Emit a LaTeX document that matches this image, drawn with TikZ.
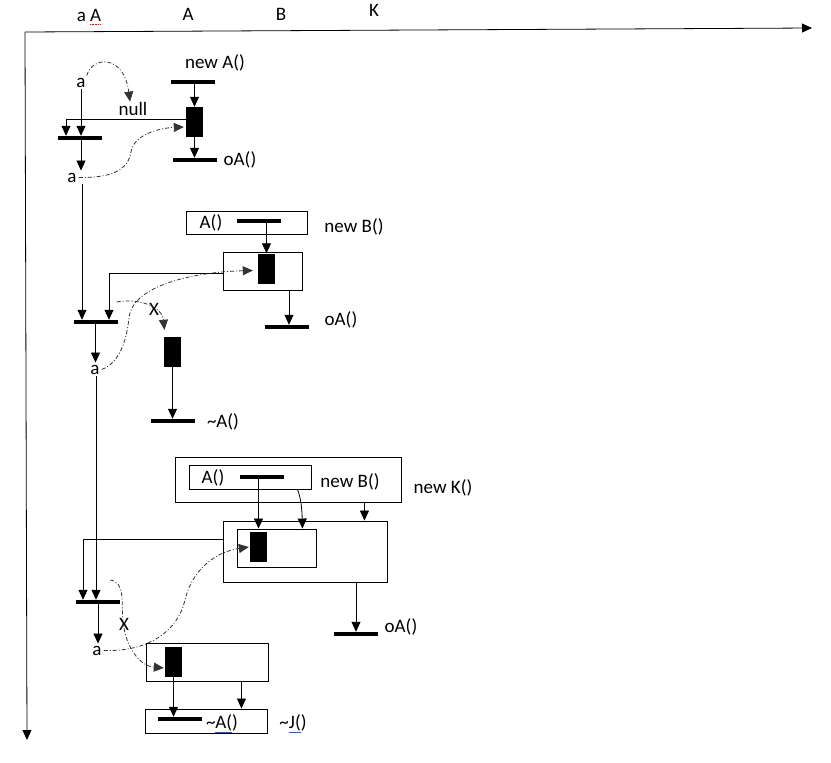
\documentclass[tikz,border=0pt]{standalone}
\usepackage{fontspec}
\setmainfont{Carlito}
\usetikzlibrary{arrows.meta,calc}
\definecolor{ulblue}{RGB}{40,90,220}
\begin{document}
\begin{tikzpicture}[x=1pt,y=-1pt,
  lbl/.style={font=\fontsize{19}{22}\selectfont, inner sep=2pt, anchor=base},
  bar/.style={fill=black, minimum width=44pt, minimum height=4pt, inner sep=0pt},
  act/.style={fill=black, minimum width=17pt, minimum height=30pt, inner sep=0pt},
  frame/.style={draw, line width=0.9pt, inner sep=0pt},
  tip/.style={-{Triangle[length=10pt,width=9pt]}},
  arr/.style={tip, line width=0.8pt},
  ln/.style={line width=0.8pt},
  dd/.style={tip, line width=0.8pt, black!80, dash pattern=on 4pt off 2pt on 1pt off 2pt}
]
\useasboundingbox (0,0) rectangle (831,763);

% axes
\coordinate (o) at (25,32);
\coordinate (xend) at (812,28);
\coordinate (yend) at (27,740);
\draw[arr] (o) -- (xend);
\draw[arr] (o) -- (yend);

% column headings
\node[lbl] (h1) at (89,21) {a A};
\node[lbl] (h2) at (188,20) {A};
\node[lbl] (h3) at (281,20) {B};
\node[lbl] (h4) at (374,16) {K};
\draw[red, line width=0.6pt, densely dotted] ([xshift=1pt,yshift=-3pt]h1.base) -- ([xshift=12pt,yshift=-3pt]h1.base);

% ---------- first call: new A() ----------
\node[lbl] (a1) at (81,87) {a};
\node[lbl] (null) at (133,115) {null};
\node[lbl] (newA) at (215,68) {new A()};
\node[bar] (bnA) at (193,82) {};
\node[act] (r1) at (194.5,122) {};
\node[bar] (boA1) at (195,160) {};
\node[lbl] (toA1) at (240,165) {oA()};
\node[bar] (b1) at (80,138) {};
\node[lbl] (a2) at (72,182) {a};

\draw[arr] (bnA.south -| r1.north) -- (r1.north);
\draw[arr] (r1.south) -- (r1.south |- boA1.north);
\draw[arr] ([yshift=3pt]r1.west) -| ([xshift=-14pt]b1.north);
\draw[arr] (a1.south -| 81,0) -- (81,0 |- b1.north);
\draw[arr] (81,0 |- b1.south) -- (81,0 |- a2.north);
\draw[dd] ([xshift=-1pt]a1.north east) .. controls (92,56) and (124,54) .. ([xshift=-3pt,yshift=-2pt]null.north);
\draw[dd] (a2.east) .. controls (112,178) and (128,170) .. (131,152)
  .. controls (134,134) and (160,128) .. ([xshift=-2pt,yshift=-5pt]r1.west);

% ---------- second call: new B() ----------
\node[frame, minimum width=121pt, minimum height=23pt] (boxA2) at (246.5,222.5) {};
\node[lbl] (tA2) at (211,228) {A()};
\node[bar] (bA2) at (259,221) {};
\node[lbl] (newB2) at (354,232) {new B()};
\node[frame, minimum width=79pt, minimum height=38pt] (box2) at (262.5,271) {};
\node[act] (r2) at (266.5,268.5) {};
\node[bar] (boA2) at (287,327) {};
\node[lbl] (toA2) at (341,325) {oA()};
\node[bar] (b2) at (95.5,322) {};
\node[lbl] (a3) at (95,374) {a};
\node[lbl] (x2) at (154,315) {X};
\node[act] (r3) at (172.5,352) {};
\node[bar] (bt2) at (173,421) {};
\node[lbl] (td2) at (223,427) {\textasciitilde A()};

\draw[arr] (82,0 |- a2.south) -- (82,0 |- b2.north);
\draw[arr] (bA2.center -| r2.north) -- (r2.north);
\draw[arr] ([yshift=-2pt]box2.west) -| ([xshift=13.5pt]b2.north);
\draw[arr] (box2.south -| 289,0) -- (289,0 |- boA2.north);
\draw[arr] (b2.south) -- (b2.south |- a3.north);
\draw[arr] (r3.south) -- (r3.south |- bt2.north);
\draw[dd] ([yshift=20pt,xshift=-1pt]b2.east) .. controls (138,298) and (162,306) .. ([xshift=-8pt,yshift=7pt]r3.north);
\draw[dd] (a3.east) .. controls (122,362) and (127,335) .. (129,318)
  .. controls (132,285) and (195,272) .. ([xshift=-5pt,yshift=-2pt]r2.west);

% ---------- third call: new K() ----------
\node[frame, minimum width=226pt, minimum height=45pt] (boxK) at (288,479.5) {};
\node[frame, minimum width=122pt, minimum height=24pt] (boxB) at (250,477) {};
\node[lbl] (tA3) at (213,483) {A()};
\node[bar] (bA3) at (262,477) {};
\node[lbl] (newB3) at (350,487) {new B()};
\node[lbl] (newK) at (443,493) {new K()};
\node[frame, minimum width=164pt, minimum height=61pt] (boxL) at (305,551.5) {};
\node[frame, minimum width=79pt, minimum height=38pt] (boxI) at (276.5,548) {};
\node[act] (r4) at (258.5,547) {};
\node[bar] (boA3) at (356,634) {};
\node[lbl] (toA3) at (401,632) {oA()};
\node[bar] (b3) at (98,602) {};
\node[lbl] (a4) at (97,655) {a};
\node[lbl] (x3) at (124,630) {X};
\node[frame, minimum width=122pt, minimum height=38pt] (boxM) at (207,662) {};
\node[act] (r5) at (173.5,662) {};
\node[frame, minimum width=122pt, minimum height=24pt] (boxN) at (206,721) {};
\node[bar] (bt3) at (180,719) {};
\node[lbl] (td3) at (222,728) {\textasciitilde\textcolor{ulblue}{\underline{\textcolor{black}{A(}}})};
\node[lbl] (tj3) at (293,728) {\textasciitilde\textcolor{ulblue}{\underline{\textcolor{black}{J(}}})};

\draw[arr] (96,0 |- a3.south) -- (96,0 |- b3.north);
\draw[arr] (r4.north |- bA3.center) -- (r4.north |- boxI.north);
\draw[arr] ([xshift=-14pt]boxB.south east) .. controls (301,498) and (302,510) .. ([xshift=-14pt]boxI.north east);
\draw[arr] ([xshift=-37pt]boxK.south east) -- ([xshift=-37pt]boxK.south east |- boxL.north);
\draw[arr] ([yshift=12.5pt]boxL.west) -| ([xshift=-15pt]b3.north);
\draw[arr] (boxL.south -| boA3.north) -- (boA3.north);
\draw[arr] (b3.south) -- (b3.south |- a4.north);
\draw[arr] (r5.south) -- (r5.south |- bt3.north);
\draw[arr] ([xshift=-27pt]boxM.south east) -- ([xshift=-27pt]boxM.south east |- boxN.north);
\draw[dd] (a4.east) .. controls (150,652) and (178,630) .. (185,600)
  .. controls (192,570) and (215,552) .. ([xshift=-1pt]r4.west);
\draw[dd] ([xshift=-10pt,yshift=22pt]b3.east) .. controls (126,582) and (121,605) .. (123,622)
  .. controls (126,648) and (140,666) .. ([xshift=-1pt,yshift=-6pt]r5.west);
\end{tikzpicture}
\end{document}
